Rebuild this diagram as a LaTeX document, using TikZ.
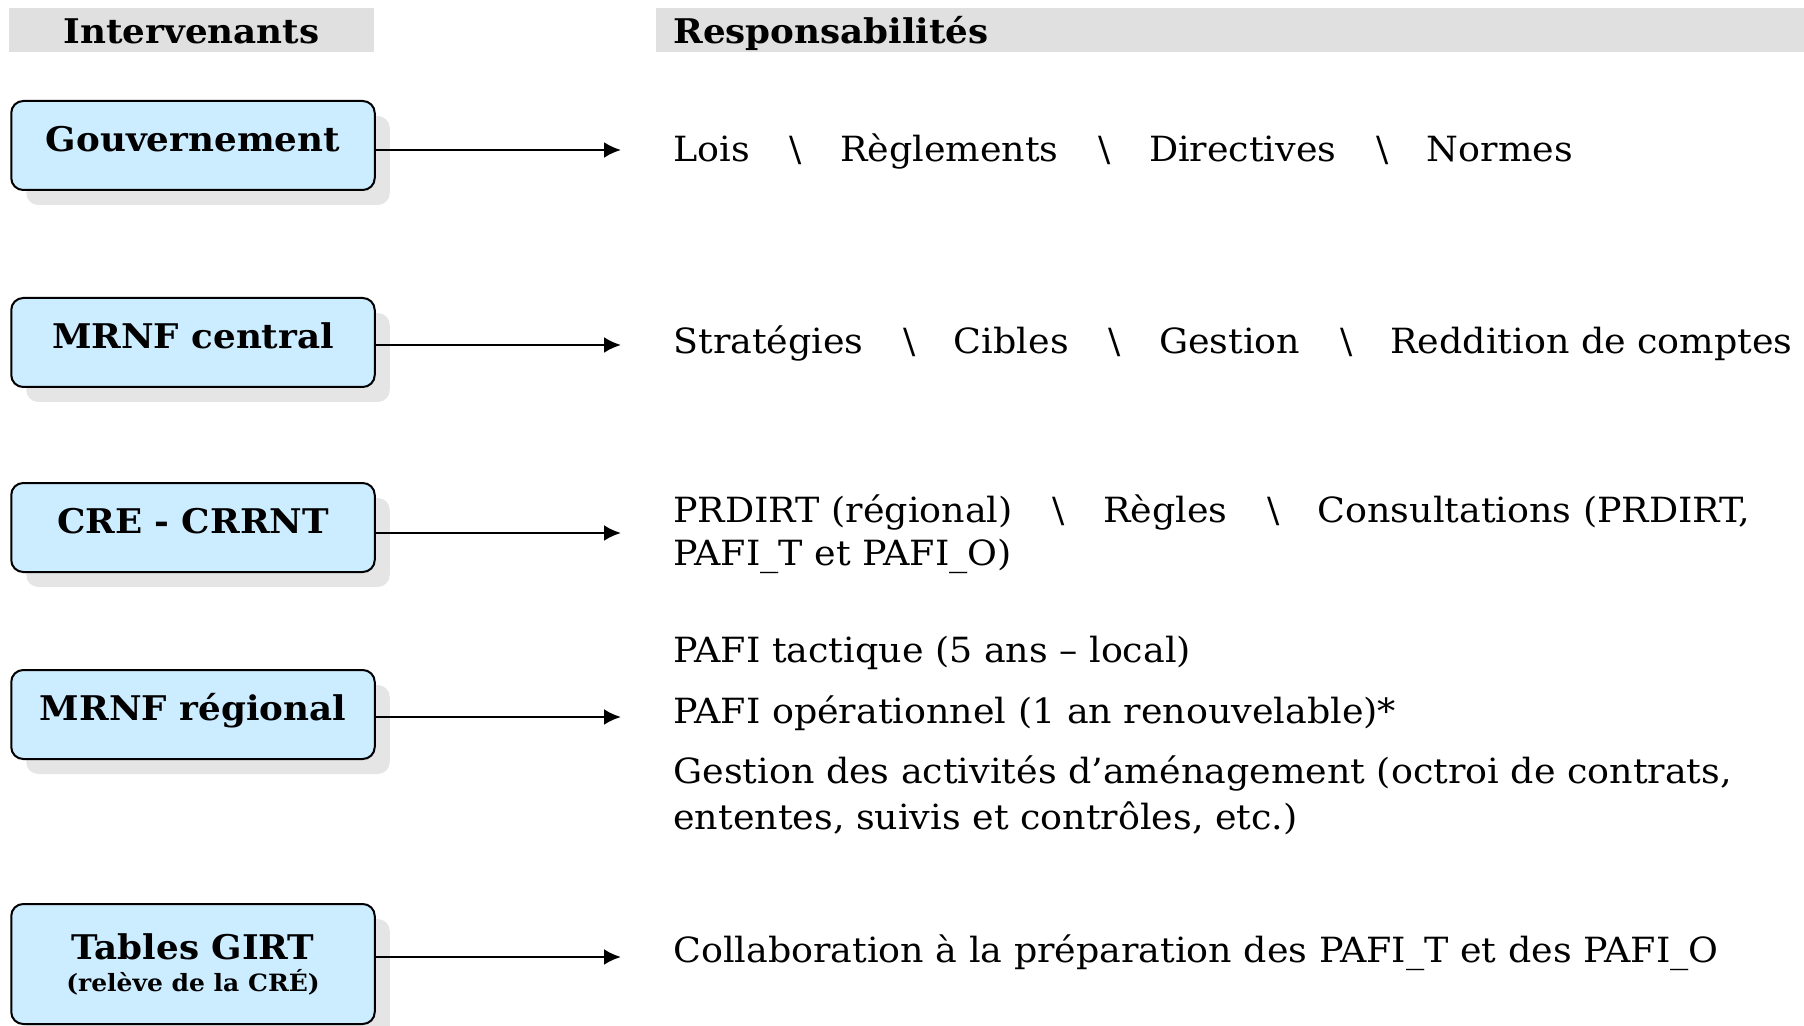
\documentclass[tikz,border=0pt]{standalone}
\usepackage{fontspec}
\setmainfont{DejaVu Serif}[FakeStretch=1.05]
\usetikzlibrary{arrows.meta}
\usetikzlibrary{positioning}
\usetikzlibrary{shadows}
\definecolor{bleuclair}{HTML}{CCECFF}
\definecolor{grisbarre}{HTML}{E0E0E0}
\newcommand{\barre}{\hspace{1.15em}\textbackslash\hspace{1.1em}}
\tikzset{
	>={Latex[length=8.5pt,width=8pt]},
	intervenant/.style={
		rectangle,
		rounded corners=6pt,
		fill=bleuclair,
		draw=black, line width=1pt,
		minimum width=181.75pt,
		minimum height=44.5pt,
		inner sep=0pt,
		text height=13pt, text depth=7pt,
		align=center,
		font=\bfseries\fontsize{17}{21}\selectfont,
		general shadow={fill=black!10, shadow xshift=7.5pt, shadow yshift=-7.5pt}},
	entete/.style={
		fill=grisbarre,
		minimum height=22pt,
		inner sep=0pt,
		text height=14pt, text depth=0.6pt,
		font=\bfseries\fontsize{17}{20}\selectfont},
	line/.style={draw, line width=1.35pt, ->},
	resp/.style={
		anchor=base west,
		inner sep=0pt,
		align=left,
		font=\fontsize{17.35}{21.5}\selectfont},
}

\begin{document}
\begin{tikzpicture}[x=0.5pt,y=-0.5pt]
	\useasboundingbox (0,0) rectangle (1804,1026);

	% en-tetes
	\node[entete, minimum width=182.5pt] (tetegauche) at (191.5,30) {Intervenants};
	\node[entete, anchor=west, minimum width=574pt, text width=557pt,
		inner xsep=8.5pt, align=left] (tetedroite) at (656,30) {Responsabilités};

	% intervenants
	\node[intervenant] (gouv)     at (193,145.5) {Gouvernement};
	\node[intervenant] (central)  at (193,342.5) {MRNF central};
	\node[intervenant] (cre)      at (193,527.5) {CRE - CRRNT};
	\node[intervenant] (regional) at (193,714.5) {MRNF régional};
	\node[intervenant, minimum height=60pt, text height={}, text depth={}] (tables) at (193,964)
		{Tables GIRT\\[-5pt]{\fontsize{11.9}{13}\selectfont (relève de la CRÉ)}};

	% responsabilites
	\node[resp] (lois) at (673,162)
		{Lois\barre Règlements\barre Directives\barre Normes};
	\node[resp] (strat) at (673,354)
		{Stratégies\barre Cibles\barre Gestion\barre Reddition de comptes};
	\node[resp] (prdirt) at (673,565)
		{PRDIRT (régional)\barre Règles\barre Consultations (PRDIRT,\\PAFI\_T et PAFI\_O)};
	\node[resp] (tactique) at (673,662) {PAFI tactique (5 ans – local)};
	\node[resp] (operationnel) at (673,723) {PAFI opérationnel (1 an renouvelable)*};
	\node[resp, font=\fontsize{17.35}{23}\selectfont] (activites) at (673,829)
		{Gestion des activités d’aménagement (octroi de contrats,\\ententes, suivis et contrôles, etc.)};
	\node[resp] (collab) at (673,962)
		{Collaboration à la préparation des PAFI\_T et des PAFI\_O};

	% fleches
	\coordinate (p1) at (621,150);
	\coordinate (p2) at (621,345);
	\coordinate (p3) at (621,533);
	\coordinate (p4) at (621,717);
	\coordinate (p5) at (621,957);
	\draw[line] (gouv.east |- p1) -- (p1);
	\draw[line] (central.east |- p2) -- (p2);
	\draw[line] (cre.east |- p3) -- (p3);
	\draw[line] (regional.east |- p4) -- (p4);
	\draw[line] (tables.east |- p5) -- (p5);
\end{tikzpicture}
\end{document}
